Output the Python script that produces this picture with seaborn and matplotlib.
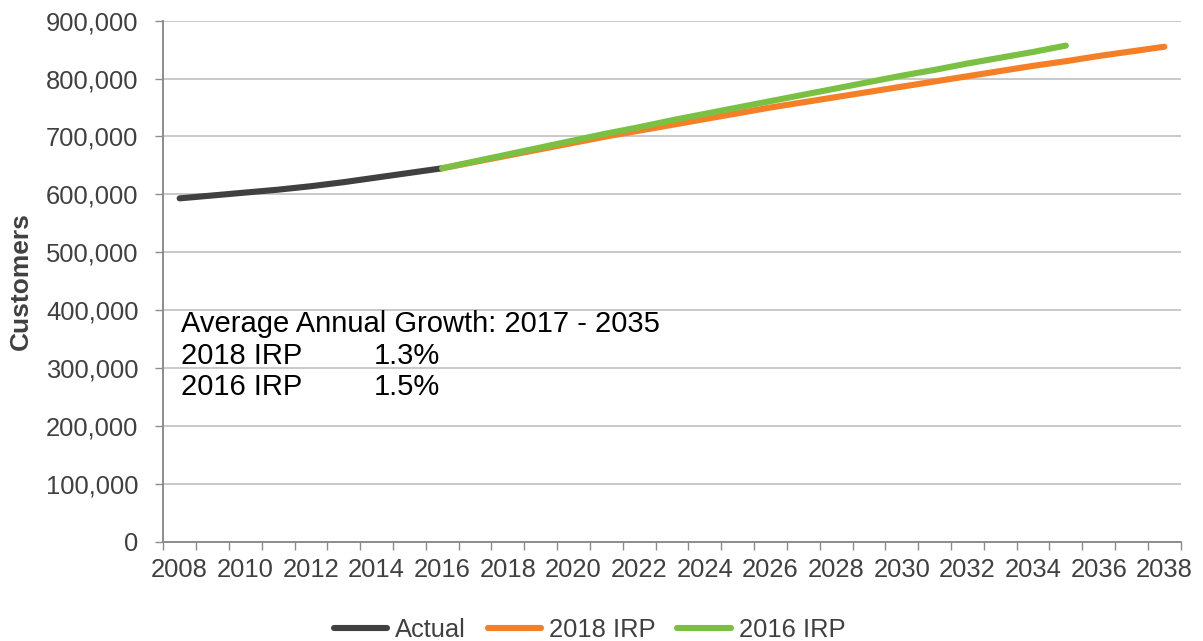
import matplotlib
matplotlib.use("Agg")
import matplotlib.pyplot as plt
from matplotlib.lines import Line2D
from matplotlib.ticker import FuncFormatter, MultipleLocator, FixedLocator
import seaborn as sns
import pandas as pd

# Customer counts (thousands)
actual_years = list(range(2008, 2017))
actual_vals = [593, 598, 603, 608, 614, 621, 629, 637, 645]

irp2018_years = list(range(2016, 2039))
irp2018_vals = [645, 656, 667, 678, 689, 700, 710, 720, 730, 740, 750, 759,
                768, 777, 786, 795, 804, 813, 822, 830, 839, 847, 855]

irp2016_years = list(range(2016, 2036))
irp2016_vals = [645, 657, 669, 681, 693, 705, 716, 728, 739, 750, 761, 772,
                783, 794, 805, 815, 826, 836, 846, 857]

series_names = ["Actual", "2018 IRP", "2016 IRP"]
series_colors = ["#404040", "#F47F27", "#7AC143"]

growth_title = "Average Annual Growth: 2017 - 2035"
growth_rows = [("2018 IRP", "1.3%"), ("2016 IRP", "1.5%")]

frames = []
for name, yrs, vals in zip(series_names,
                           [actual_years, irp2018_years, irp2016_years],
                           [actual_vals, irp2018_vals, irp2016_vals]):
    frames.append(pd.DataFrame({"year": yrs,
                                "customers": [v * 1000 for v in vals],
                                "series": name}))
df = pd.concat(frames, ignore_index=True)

sns.set_theme(style="white")
plt.rcParams["font.family"] = ["Liberation Sans", "DejaVu Sans"]

fig = plt.figure(figsize=(12.03, 6.41), dpi=100)
ax = fig.add_axes([0.1357, 0.1552, 0.9815 - 0.1357, 0.9677 - 0.1552])

palette = dict(zip(series_names, series_colors))
sns.lineplot(data=df, x="year", y="customers", hue="series",
             hue_order=series_names, palette=palette, linewidth=4.4,
             solid_capstyle="round", sort=True, legend=False, ax=ax,
             estimator=None)

ax.set_xlim(2007.5, 2038.5)
ax.set_ylim(0, 900000)

label_color = "#404040"
axis_color = "#8C8C8C"
grid_color = "#BBBBBB"

ax.yaxis.set_major_locator(MultipleLocator(100000))
ax.yaxis.set_major_formatter(FuncFormatter(lambda v, p: f"{int(v):,}"))
ax.xaxis.set_major_locator(FixedLocator(list(range(2008, 2039, 2))))
ax.xaxis.set_major_formatter(FuncFormatter(lambda v, p: f"{int(round(v))}"))
ax.xaxis.set_minor_locator(FixedLocator([y + 0.5 for y in range(2007, 2039)]))

ax.tick_params(axis="x", which="major", length=0, pad=12,
               labelsize=18.4, labelcolor=label_color)
ax.tick_params(axis="x", which="minor", length=5.8, width=1.0,
               color=axis_color, direction="out", bottom=True)
ax.tick_params(axis="y", which="major", length=5.8, width=1.0,
               color=axis_color, direction="out", left=True, pad=12,
               labelsize=18.4, labelcolor=label_color)

ax.grid(axis="y", color=grid_color, linewidth=1.1)
ax.grid(axis="x", visible=False)
ax.set_axisbelow(True)

for side in ["top", "right"]:
    ax.spines[side].set_visible(False)
for side in ["left", "bottom"]:
    ax.spines[side].set_color(axis_color)
    ax.spines[side].set_linewidth(1.4)

ax.set_xlabel("")
ax.set_ylabel("Customers", fontsize=19, fontweight="bold", color=label_color)
ax.yaxis.set_label_coords(-0.128, 0.5)

# Growth summary
ax.text(0.0174, 0.4023, growth_title, transform=ax.transAxes,
        fontsize=21, color="black", va="baseline", ha="left")
for i, (name, rate) in enumerate(growth_rows):
    yy = 0.3409 - i * 0.0600
    ax.text(0.0174, yy, name, transform=ax.transAxes, fontsize=21,
            color="black", va="baseline", ha="left")
    ax.text(0.2064, yy, rate, transform=ax.transAxes, fontsize=21,
            color="black", va="baseline", ha="left")

handles = [Line2D([0], [0], color=c, linewidth=4.4, solid_capstyle="round")
           for c in series_colors]
fig.legend(handles, series_names, loc="center", bbox_to_anchor=(0.49, 0.017),
           ncol=3, frameon=False, fontsize=18.4, handlelength=2.1,
           handletextpad=0.3, columnspacing=0.85, labelcolor=label_color)

fig.savefig("out.png", dpi=100)
